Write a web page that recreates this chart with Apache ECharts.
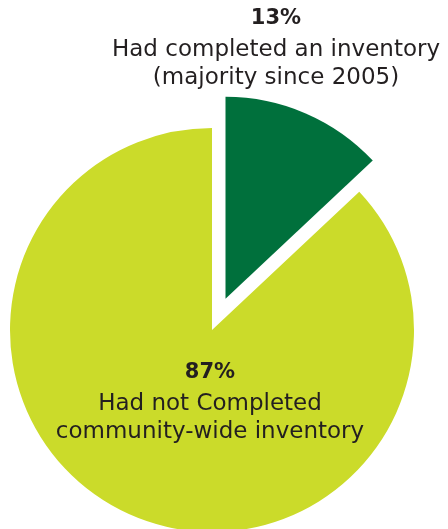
<!DOCTYPE html>
<html><head><meta charset="utf-8">
<script src="https://cdn.jsdelivr.net/npm/echarts@6/dist/echarts.min.js"></script>
<style>html,body{margin:0;padding:0;background:#fff}#c{width:448px;height:529px}</style>
</head><body><div id="c"></div>
<script>
var categories = ['Had completed an inventory\n(majority since 2005)', 'Had not Completed\ncommunity-wide inventory'];
var values = [13, 87];
var pctLabels = ['13%', '87%'];
var colors = ['#00703C', '#CBDB2A'];

var chart = echarts.init(document.getElementById('c'));
var FONT = '"DejaVu Sans", sans-serif';
function textBlock(i, x, y0, dy) {
  var lines = categories[i].split('\n');
  var els = [{type:'text', z: 100, x: x, y: y0, style:{text: pctLabels[i], font: 'bold 21px ' + FONT, fill:'#231F20', align:'center', verticalAlign:'middle'}}];
  lines.forEach(function(l, k){
    els.push({type:'text', z: 100, x: x, y: y0 + dy*(k+1) + 3, style:{text: l, font: '23px ' + FONT, fill:'#231F20', align:'center', verticalAlign:'middle'}});
  });
  return els;
}
chart.setOption({
  animation: false,
  series: [{
    type: 'pie',
    z: 1,
    center: [212, 330],
    radius: 202,
    startAngle: 90,
    clockwise: true,
    selectedMode: 'single',
    selectedOffset: 34,
    label: {show: false},
    labelLine: {show: false},
    emphasis: {disabled: true},
    data: values.map(function(v, i){ return {value: v, name: categories[i], selected: i === 0, itemStyle:{color: colors[i]}}; })
  }],
  graphic: {elements: textBlock(0, 276, 19, 28).concat(textBlock(1, 210, 373, 28))}
});
</script></body></html>
